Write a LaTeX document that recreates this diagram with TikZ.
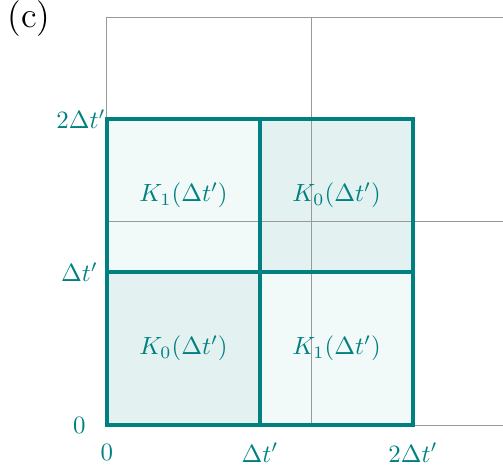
\documentclass[tikz,border=0pt]{standalone}
\usepackage{amsmath}
\definecolor{tealline}{RGB}{0,128,128}
\begin{document}
\begin{tikzpicture}[x=2.16cm,y=2.16cm,
  gridline/.style={gray!80,line width=0.4pt},
  cellline/.style={tealline,line width=1.3pt},
  lbl/.style={text=tealline}]
% Rahmen des Bildes
\useasboundingbox (-0.699,-0.281) rectangle (2.588,2.778);
\clip (-0.699,-0.281) rectangle (2.588,2.778);
% Felder
\fill[tealline!5] (0,0) rectangle (2,2);
\fill[tealline!11] (0,0) rectangle (1,1);
\fill[tealline!11] (1,1) rectangle (2,2);
% Gitter (grau)
\draw[gridline] (0,0) rectangle (8/3,8/3);
\draw[gridline] (4/3,0) -- (4/3,8/3);
\draw[gridline] (0,4/3) -- (8/3,4/3);
% Zellen (teal)
\draw[cellline] (0,0) rectangle (2,2);
\draw[cellline] (1,0) -- (1,2);
\draw[cellline] (0,1) -- (2,1);
% Beschriftung der Zellen
\node[lbl] (k0a) at (0.5,0.5) {\(K_0(\Delta t')\)};
\node[lbl] (k1a) at (1.5,0.5) {\(K_1(\Delta t')\)};
\node[lbl] (k1b) at (0.5,1.5) {\(K_1(\Delta t')\)};
\node[lbl] (k0b) at (1.5,1.5) {\(K_0(\Delta t')\)};
% Achsen
\node[lbl] (y0) at (-0.18,0) {\(0\)};
\node[lbl] (y1) at (-0.18,1) {\(\Delta t'\)};
\node[lbl] (y2) at (-0.17,2) {\(2\Delta t'\)};
\node[lbl] (x0) at (0,-0.18) {\(0\)};
\node[lbl] (x1) at (1,-0.18) {\(\Delta t'\)};
\node[lbl] (x2) at (2,-0.18) {\(2\Delta t'\)};
\node[font=\Large] (tag) at (-0.51,2.654) {(c)};
\end{tikzpicture}
\end{document}
